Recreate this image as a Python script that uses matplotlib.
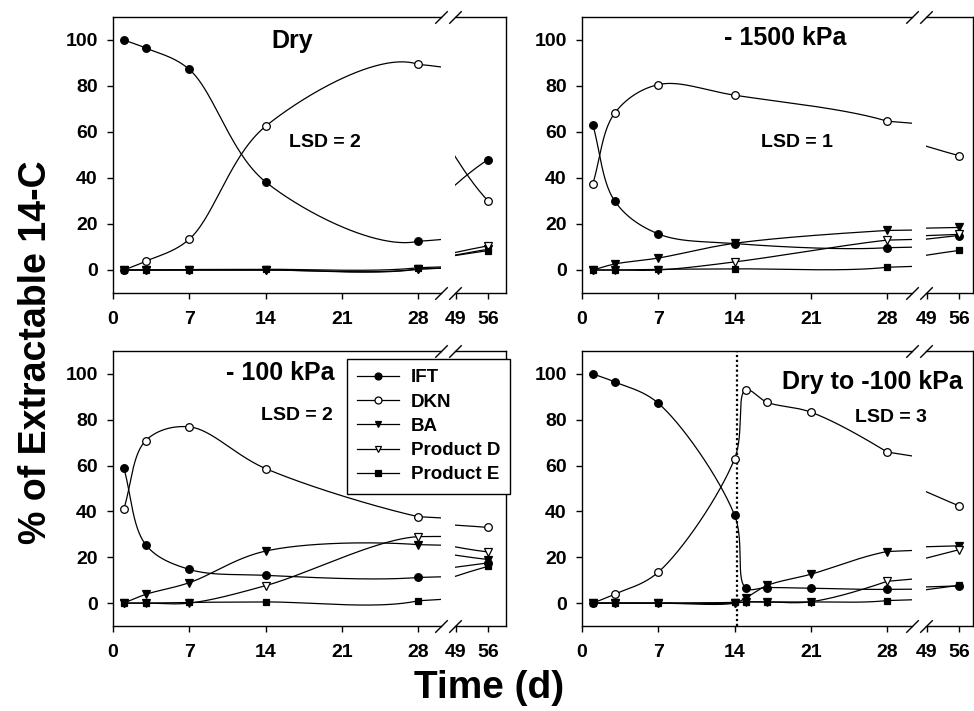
import numpy as np
import matplotlib.pyplot as plt

plt.rcParams['font.family'] = ['Liberation Sans', 'DejaVu Sans']
plt.rcParams['font.weight'] = 'bold'

# sampling days
days = [1, 3, 7, 14, 28, 56]
days_rewet = [1, 3, 7, 14, 15, 17, 21, 28, 56]

names = ["IFT", "DKN", "BA", "Product D", "Product E"]

# Dry
dry_ift = [100, 96.5, 87.2, 38.3, 12.5, 48]
dry_dkn = [0, 3.8, 13.4, 62.5, 89.4, 30]
dry_ba = [0, 0, 0, 0, 0.4, 9]
dry_d = [0, 0, 0, 0, 0.4, 10.5]
dry_e = [0, 0, 0.2, 0.3, 1, 8.4]

# -1500 kPa
k1500_ift = [63, 30, 15.7, 11.5, 9.7, 15]
k1500_dkn = [37.6, 68.2, 80.6, 76, 64.7, 49.7]
k1500_ba = [0, 2.6, 5.2, 11.6, 17.2, 18.5]
k1500_d = [0, 0, 0, 3.5, 13, 15.5]
k1500_e = [0, 0, 0.3, 0.5, 1.2, 8.5]

# -100 kPa
k100_ift = [58.8, 25.5, 14.7, 12.1, 11.2, 17.5]
k100_dkn = [41.2, 70.9, 76.9, 58.7, 37.7, 33]
k100_ba = [0, 3.8, 8.9, 22.7, 25.5, 19]
k100_d = [0, 0, 0, 7.6, 29, 22.3]
k100_e = [0, 0, 0.3, 0.5, 1, 16]

# Dry to -100 kPa
rew_ift = [100, 96.5, 87.2, 38.3, 6.7, 6.8, 6.5, 6, 7.5]
rew_dkn = [0, 3.9, 13.5, 63, 93, 87.6, 83.3, 65.9, 42.4]
rew_ba = [0, 0, 0, 0, 2.2, 7.7, 12.6, 22.5, 25]
rew_d = [0, 0, 0, 0, 0.5, 0.5, 0.6, 9.5, 23.3]
rew_e = [0, 0, 0, 0.3, 0.5, 0.5, 0.5, 1.1, 7.7]
rewet_day = 14.2

panels = [
    ("Dry", "LSD = 2", days, [dry_ift, dry_dkn, dry_ba, dry_d, dry_e]),
    ("- 1500 kPa", "LSD = 1", days, [k1500_ift, k1500_dkn, k1500_ba, k1500_d, k1500_e]),
    ("- 100 kPa", "LSD = 2", days, [k100_ift, k100_dkn, k100_ba, k100_d, k100_e]),
    ("Dry to -100 kPa", "LSD = 3", days_rewet, [rew_ift, rew_dkn, rew_ba, rew_d, rew_e]),
]

markers = [('o', 'black'), ('o', 'white'), ('v', 'black'), ('v', 'white'), ('s', 'black')]
msizes = [5.5, 5.5, 5.5, 5.5, 5]

K = 0.25  # compression of the 28-56 d stretch used for the curve shape


def smooth(x, y, n=80):
    # centripetal Catmull-Rom through the points, in screen-like units
    x = np.asarray(x, float)
    y = np.asarray(y, float)
    u = np.where(x <= 28, x, 28 + (x - 28) * K)
    P = np.column_stack([u * 10.9, y * 2.29])
    P = np.vstack([2 * P[0] - P[1], P, 2 * P[-1] - P[-2]])
    out = []
    for i in range(1, len(P) - 2):
        p0, p1, p2, p3 = P[i - 1:i + 3]
        t0 = 0.0
        t1 = t0 + np.linalg.norm(p1 - p0) ** 0.5
        t2 = t1 + np.linalg.norm(p2 - p1) ** 0.5
        t3 = t2 + np.linalg.norm(p3 - p2) ** 0.5
        t = np.linspace(t1, t2, n)[:, None]
        a1 = (t1 - t) / (t1 - t0) * p0 + (t - t0) / (t1 - t0) * p1
        a2 = (t2 - t) / (t2 - t1) * p1 + (t - t1) / (t2 - t1) * p2
        a3 = (t3 - t) / (t3 - t2) * p2 + (t - t2) / (t3 - t2) * p3
        b1 = (t2 - t) / (t2 - t0) * a1 + (t - t0) / (t2 - t0) * a2
        b2 = (t3 - t) / (t3 - t1) * a2 + (t - t1) / (t3 - t1) * a3
        out.append((t2 - t) / (t2 - t1) * b1 + (t - t1) / (t2 - t1) * b2)
    c = np.vstack(out)
    uu = c[:, 0] / 10.9
    return np.where(uu <= 28, uu, 28 + (uu - 28) / K), c[:, 1] / 2.29


W, H = 974, 711
fig = plt.figure(figsize=(W / 100, H / 100), dpi=100)

# pixel boxes: (left seg x0, x1, right seg x0, x1, y top, y bottom)
boxes = [
    (113, 441, 455, 506, 17, 293),
    (582, 912, 926, 973, 17, 293),
    (113, 441, 455, 506, 351, 626),
    (582, 912, 926, 973, 351, 626),
]
title_pos = [(16.4, 99.5), (18.6, 101), (15.3, 100.3), (26.6, 96.6)]
lsd_pos = [(19.4, 55.4), (19.7, 55.4), (16.9, 82), (28.3, 80.9)]

kw_break = dict(marker=[(-1, -1), (1, 1)], markersize=9, linestyle='none',
                color='k', mec='k', mew=1, clip_on=False)

handles = None
for p, (title, lsd, x, series) in enumerate(panels):
    lx0, lx1, rx0, rx1, yt, yb = boxes[p]
    axl = fig.add_axes([lx0 / W, 1 - yb / H, (lx1 - lx0) / W, (yb - yt) / H])
    axr = fig.add_axes([rx0 / W, 1 - yb / H, (rx1 - rx0) / W, (yb - yt) / H])
    axr.patch.set_visible(False)
    hs = []
    for s, vals in enumerate(series):
        sx, sy = smooth(x, vals)
        for ax in (axl, axr):
            ax.plot(sx, sy, color='black', lw=0.9, zorder=2)
            ax.plot(x, vals, linestyle='none', marker=markers[s][0], ms=msizes[s],
                    mfc=markers[s][1], mec='black', mew=0.9, zorder=3)
        hs.append(plt.Line2D([], [], color='black', lw=0.9, marker=markers[s][0],
                             ms=msizes[s] - 0.5, mfc=markers[s][1], mec='black', mew=0.9))
    if p == 2:
        handles = hs
    if p == 3:
        axl.axvline(rewet_day, color='black', lw=1.6, linestyle=(0, (1, 1.2)), zorder=1)

    axl.set_xlim(0, (lx1 - lx0) / 10.9)
    axr.set_xlim(48.8, 48.8 + (rx1 - rx0) / 4.6)
    for ax in (axl, axr):
        ax.set_ylim(-10, 110)
        for sp in ax.spines.values():
            sp.set_linewidth(1)
        ax.tick_params(direction='out', length=4, width=1, labelsize=14, pad=7)
    axl.tick_params(axis='x', pad=9)
    axr.tick_params(axis='x', pad=9)
    axl.spines['right'].set_visible(False)
    axr.spines['left'].set_visible(False)
    axl.set_yticks([0, 20, 40, 60, 80, 100])
    axl.set_xticks([0, 7, 14, 21, 28])
    axr.set_yticks([])
    axr.set_xticks([49, 56])
    axr.set_xticklabels(['49', '56'])
    for lab in axl.get_xticklabels() + axl.get_yticklabels() + axr.get_xticklabels():
        lab.set_fontweight('bold')

    axl.plot([1, 1], [0, 1], transform=axl.transAxes, **kw_break)
    axr.plot([0, 0], [0, 1], transform=axr.transAxes, **kw_break)

    axl.text(title_pos[p][0], title_pos[p][1], title, fontsize=18, fontweight='bold',
             ha='center', va='center', zorder=5)
    axl.text(lsd_pos[p][0], lsd_pos[p][1], lsd, fontsize=14, fontweight='bold',
             ha='center', va='center', zorder=5)

leg = fig.legend(handles, names, loc='upper left', bbox_to_anchor=(347 / W, 1 - 359 / H),
                 frameon=True, fancybox=False, framealpha=1, edgecolor='black',
                 prop={'size': 13.5, 'weight': 'bold'}, handlelength=2.2,
                 handletextpad=0.65, labelspacing=0.38, borderpad=0.55, borderaxespad=0)
leg.get_frame().set_linewidth(1)

fig.text(36 / W, 1 - 352 / H, '% of Extractable 14-C', rotation=90, fontsize=27,
         fontweight='bold', ha='center', va='center')
fig.text(489 / W, 1 - 688 / H, 'Time (d)', fontsize=28, fontweight='bold',
         ha='center', va='center')

fig.savefig('out.png', dpi=100)
